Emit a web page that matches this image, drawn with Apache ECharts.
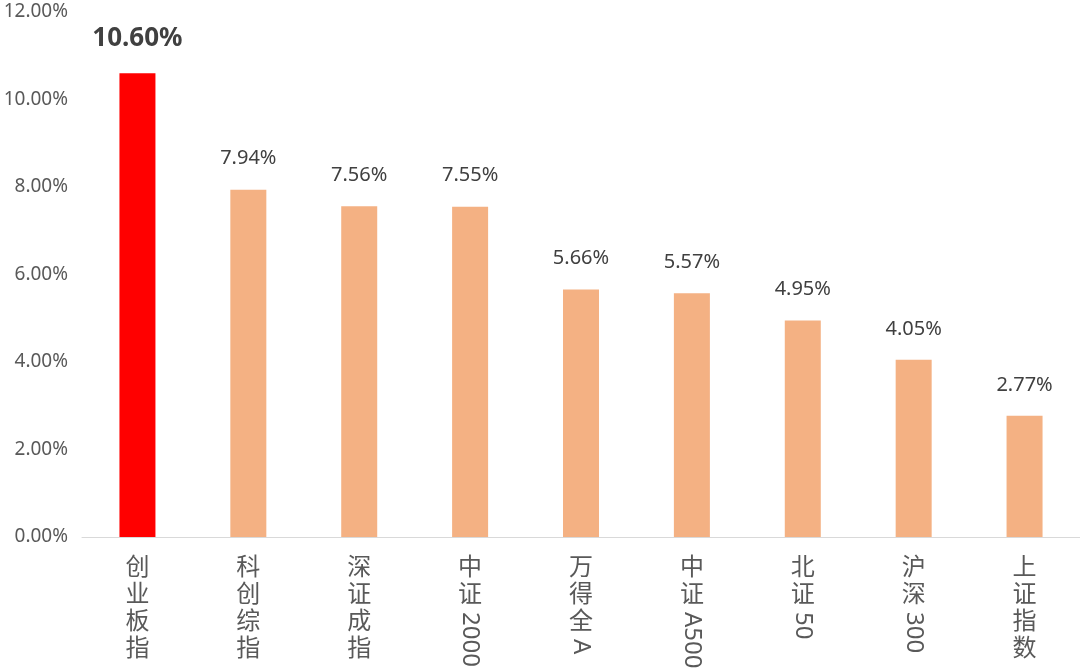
<!DOCTYPE html>
<html><head><meta charset="utf-8">
<script src="https://cdn.jsdelivr.net/npm/echarts@6/dist/echarts.min.js"></script>
<style>html,body{margin:0;padding:0;background:#fff}#c{width:1080px;height:671px}</style>
</head><body><div id="c"></div>
<script>
const categories = ['创业板指','科创综指','深证成指','中证2000','万得全A','中证A500','北证50','沪深300','上证指数'];
const values = [10.60, 7.94, 7.56, 7.55, 5.66, 5.57, 4.95, 4.05, 2.77];
const yTicks = [0, 2, 4, 6, 8, 10, 12];

const FONT = '"Noto Sans", "Noto Sans CJK SC", sans-serif';
const chart = echarts.init(document.getElementById('c'), null, {renderer:'canvas'});
const option = {
  animation: false,
  backgroundColor: '#fff',
  grid: {left: 82, right: 0, top: 12, bottom: 134},
  xAxis: {
    type: 'category', data: categories,
    axisLine: {lineStyle: {color: '#d9d9d9', width: 1}},
    axisTick: {show: false},
    axisLabel: {show: false}
  },
  yAxis: {
    type: 'value', min: yTicks[0], max: yTicks[yTicks.length-1], interval: 2,
    axisLine: {show: false}, axisTick: {show: false}, splitLine: {show: false},
    axisLabel: {formatter: v => v.toFixed(2) + '%', color: '#595959', fontSize: 19, fontFamily: FONT, margin: 14}
  },
  series: [{
    type: 'bar', barWidth: 36,
    data: values.map((v, i) => ({
      value: v,
      itemStyle: {color: i === 0 ? '#ff0000' : '#f4b183'},
      label: i === 0 ? {fontSize: 26, fontWeight: 'bold', color: '#404040', distance: 22} : {}
    })),
    label: {show: true, position: 'top', distance: 21, formatter: p => p.value.toFixed(2) + '%', color: '#404040', fontSize: 20, fontFamily: FONT}
  }]
};
chart.setOption(option);

// vertical axis labels: CJK upright, Latin runs rotated clockwise
const LFS = 24, LH = 27, Y0 = 556;
const labelFont = LFS + 'px ' + FONT;
const cv = document.createElement('canvas').getContext('2d');
cv.font = labelFont;
const graphics = [];
categories.forEach((cat, i) => {
  const x = chart.convertToPixel({xAxisIndex: 0}, cat);
  const runs = cat.match(/[A-Za-z0-9]+|[^A-Za-z0-9]/g);
  let y = Y0;
  runs.forEach(r => {
    if (/^[A-Za-z0-9]+$/.test(r)) {
      const w = cv.measureText(r).width;
      graphics.push({type: 'text', x: x, y: y + 2, rotation: -Math.PI/2, silent: true,
        style: {text: r, x: 0, y: 0, align: 'left', verticalAlign: 'middle', font: labelFont, fill: '#595959'}});
      y += w + 4;
    } else {
      graphics.push({type: 'text', x: x, y: y, silent: true,
        style: {text: r, x: 0, y: 0, align: 'center', verticalAlign: 'top', font: labelFont, fill: '#595959'}});
      y += LH;
    }
  });
});
chart.setOption({graphic: graphics});
</script></body></html>
